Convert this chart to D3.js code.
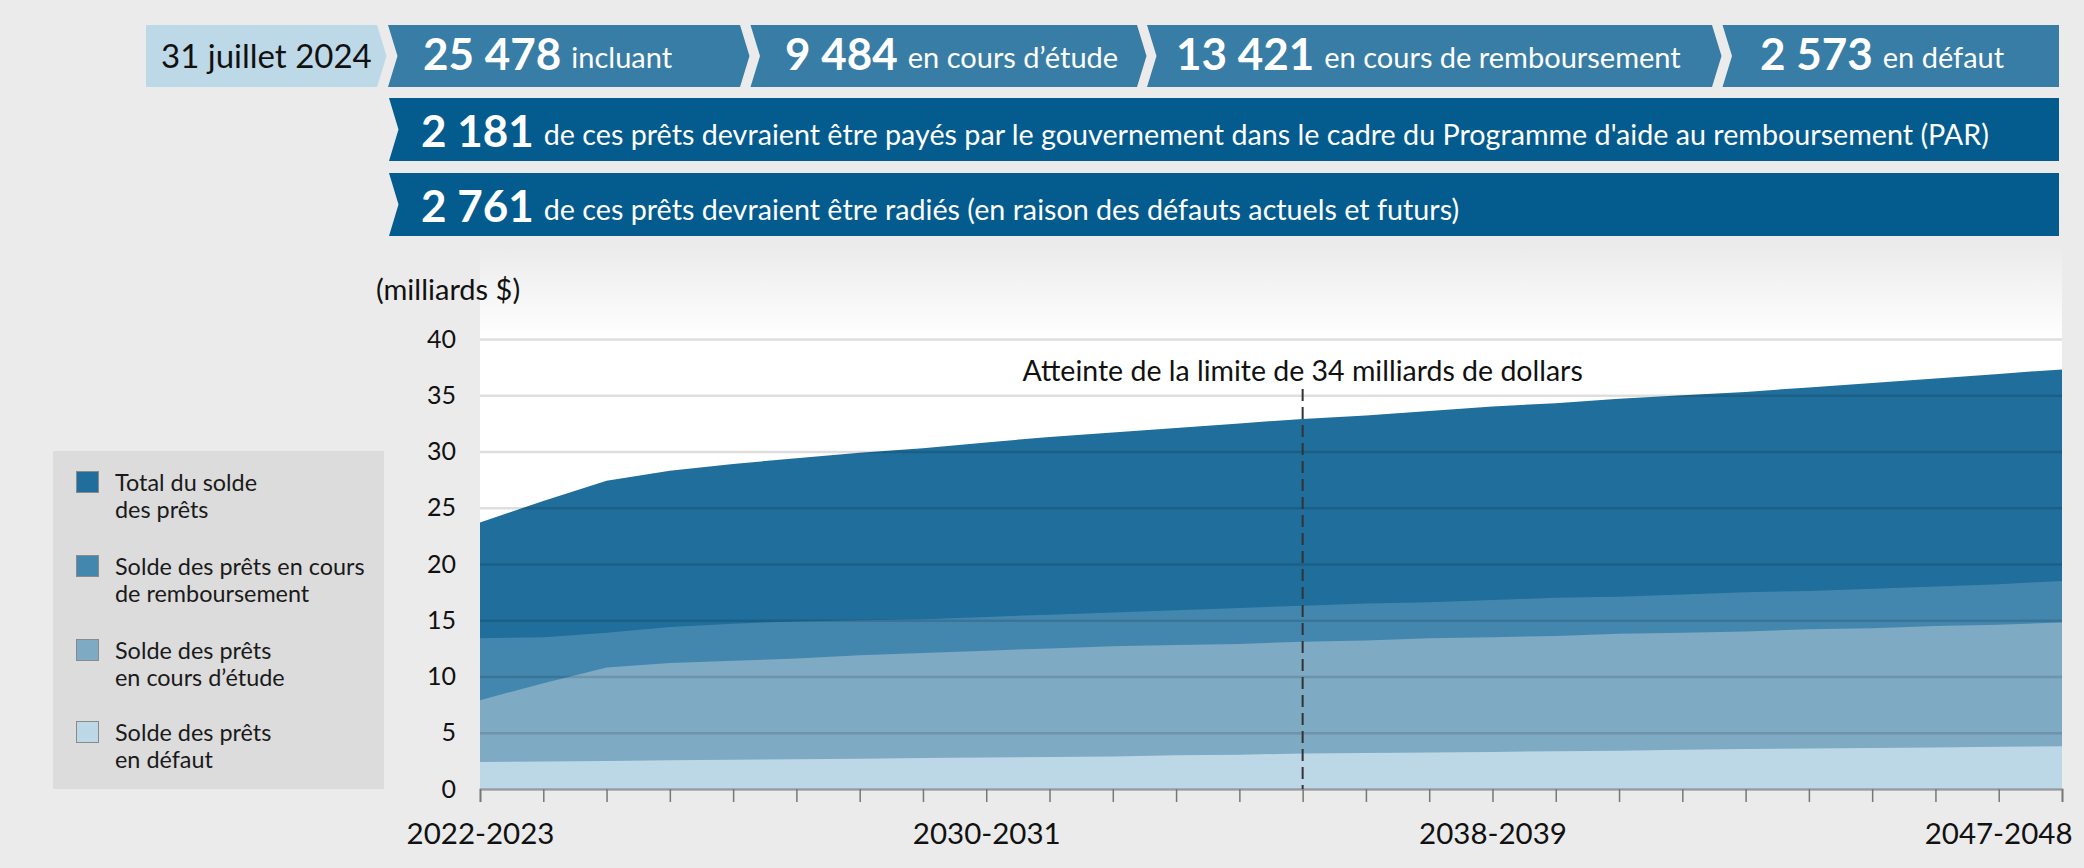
<!DOCTYPE html>
<html><head><meta charset="utf-8">
<script src="https://cdn.jsdelivr.net/npm/d3@7"></script>
<style>
html,body{margin:0;padding:0;background:#ebebeb;}
svg{display:block;font-family:Lato,"Open Sans",sans-serif;}
</style></head>
<body>
<svg id="chart" width="2084" height="868"></svg>
<script>
// ---------- DATA ----------
const years = ["2022-2023","2023-2024","2024-2025","2025-2026","2026-2027","2027-2028","2028-2029","2029-2030","2030-2031","2031-2032","2032-2033","2033-2034","2034-2035","2035-2036","2036-2037","2037-2038","2038-2039","2039-2040","2040-2041","2041-2042","2042-2043","2043-2044","2044-2045","2045-2046","2046-2047","2047-2048"];
const totalBalance     = [23.7,25.6,27.4,28.3,28.9,29.4,29.9,30.3,30.8,31.3,31.7,32.1,32.5,32.9,33.2,33.6,34.0,34.3,34.7,35.0,35.3,35.7,36.1,36.5,36.9,37.3];
const repaymentBalance = [13.4,13.5,13.9,14.4,14.7,14.9,15.0,15.1,15.3,15.5,15.7,15.9,16.1,16.3,16.5,16.6,16.8,17.0,17.1,17.3,17.5,17.6,17.8,18.0,18.2,18.5];
const studyBalance     = [7.9,9.4,10.8,11.2,11.4,11.6,11.9,12.1,12.3,12.5,12.7,12.8,12.9,13.1,13.2,13.4,13.5,13.6,13.8,13.9,14.0,14.2,14.3,14.5,14.6,14.8];
const defaultBalance   = [2.4,2.45,2.5,2.55,2.6,2.65,2.7,2.75,2.8,2.85,2.9,3.0,3.05,3.15,3.2,3.25,3.3,3.35,3.4,3.5,3.55,3.6,3.65,3.7,3.75,3.8];
const yTicks = [0,5,10,15,20,25,30,35,40];
const xTickLabels = ["2022-2023","2030-2031","2038-2039","2047-2048"];
const limitYear = "2035-2036";
const limitText = "Atteinte de la limite de 34 milliards de dollars";
const yTitle = "(milliards $)";
const seriesNames = [["Total du solde","des prêts"],["Solde des prêts en cours","de remboursement"],["Solde des prêts","en cours d’étude"],["Solde des prêts","en défaut"]];
const seriesColors = ["#1f6e9b","#4387ae","#7eaac4","#bcd8e6"];
const headerDate = "31 juillet 2024";
const row1Numbers = ["25 478","9 484","13 421","2 573"];
const row1Labels = ["incluant","en cours d’étude","en cours de remboursement","en défaut"];
const row2Number = "2 181";
const row2Label = "de ces prêts devraient être payés par le gouvernement dans le cadre du Programme d'aide au remboursement (PAR)";
const row3Number = "2 761";
const row3Label = "de ces prêts devraient être radiés (en raison des défauts actuels et futurs)";

// ---------- LAYOUT ----------
const svg = d3.select("#chart");
const plot = {left:480, right:2062, top:339, bottom:789};
const x = d3.scalePoint().domain(years).range([plot.left, plot.right]);
const y = d3.scaleLinear().domain([0,40]).range([plot.bottom, plot.top]);

// ---------- HEADER ----------
const medBlue = "#387da5", darkBlue = "#045b8e", lightBlue = "#bdd8e6";
const d = 9.5; // chevron depth
function box(x0, x1, y0, y1, notchLeft, arrowRight){
  const ym = (y0+y1)/2;
  let p = `M${x0},${y0} L${x1},${y0} `;
  p += arrowRight ? `L${x1+d},${ym} L${x1},${y1} ` : `L${x1},${y1} `;
  p += `L${x0},${y1} `;
  p += notchLeft ? `L${x0+d},${ym} Z` : `Z`;
  return p;
}
const r1y0 = 25, r1y1 = 87;
svg.append("path").attr("d", box(146,377,r1y0,r1y1,false,true)).attr("fill",lightBlue);
svg.append("text").attr("x",161).attr("y",68).attr("font-size",33).attr("fill","#111").text(headerDate);

const r1Boxes = [[388,740,true,true,423],[750.5,1137,true,true,785],[1147,1712,true,true,1176],[1722.5,2059,true,false,1760]];
r1Boxes.forEach((b,i)=>{
  svg.append("path").attr("d", box(b[0],b[1],r1y0,r1y1,b[2],b[3])).attr("fill",medBlue);
  const t = svg.append("text").attr("x",b[4]).attr("y",70).attr("fill","#fff");
  t.append("tspan").attr("font-size",44).attr("font-weight","bold").text(row1Numbers[i]);
  t.append("tspan").attr("dx",10).attr("dy",-2).attr("font-size",29).text(row1Labels[i]);
});

[[98,161,row2Number,row2Label],[173,236,row3Number,row3Label]].forEach(r=>{
  svg.append("path").attr("d", box(389,2059,r[0],r[1],true,false)).attr("fill",darkBlue);
  const t = svg.append("text").attr("x",421).attr("y",r[1]-14.5).attr("fill","#fff");
  t.append("tspan").attr("font-size",44).attr("font-weight","bold").text(r[2]);
  t.append("tspan").attr("dx",10).attr("dy",-2).attr("font-size",28.7).text(r[3]);
});

// ---------- PLOT BACKGROUND ----------
const defs = svg.append("defs");
const grad = defs.append("linearGradient").attr("id","fade").attr("x1",0).attr("y1",0).attr("x2",0).attr("y2",1);
grad.append("stop").attr("offset","0%").attr("stop-color","#ebebeb");
grad.append("stop").attr("offset","100%").attr("stop-color","#ffffff");
svg.append("rect").attr("x",plot.left).attr("y",245).attr("width",plot.right-plot.left).attr("height",plot.top-245).attr("fill","url(#fade)");
svg.append("rect").attr("x",plot.left).attr("y",plot.top).attr("width",plot.right-plot.left).attr("height",plot.bottom-plot.top).attr("fill","#fff");

// ---------- LEGEND ----------
svg.append("rect").attr("x",53).attr("y",451).attr("width",331).attr("height",338).attr("fill","#dcdcdc");
const legY = [471,555,639,721];
seriesNames.forEach((nm,i)=>{
  svg.append("rect").attr("x",76.5).attr("y",legY[i]+0.5).attr("width",22).attr("height",21)
    .attr("fill",seriesColors[i]).attr("stroke","#8a8a8a").attr("stroke-width",1);
  const t = svg.append("text").attr("x",115).attr("y",legY[i]+19.5).attr("font-size",23.4).attr("fill","#1a1a1a");
  t.append("tspan").attr("x",115).text(nm[0]);
  t.append("tspan").attr("x",115).attr("dy",27.5).text(nm[1]);
});

// ---------- AREAS ----------
const series = [totalBalance, repaymentBalance, studyBalance, defaultBalance];
const area = d3.area().x((v,i)=>x(years[i])).y0(y(0)).y1(v=>y(v));
series.forEach((s,i)=>{
  svg.append("path").attr("d", area(s)).attr("fill", seriesColors[i]);
});

// ---------- GRID & Y AXIS ----------
const yAxis = svg.append("g").attr("transform",`translate(${plot.left},0)`)
  .call(d3.axisLeft(y).tickValues(yTicks).tickSize(-(plot.right-plot.left)).tickPadding(24));
yAxis.select(".domain").remove();
yAxis.selectAll(".tick line").attr("stroke","#000").attr("stroke-opacity",0.13).attr("stroke-width",2.5);
yAxis.selectAll(".tick text").attr("font-size",25).attr("fill","#111").attr("font-family","Lato");
svg.append("text").attr("x",376).attr("y",300).attr("font-size",29).attr("fill","#111").text(yTitle);

// ---------- X AXIS ----------
const xAxis = svg.append("g").attr("transform",`translate(0,${plot.bottom})`)
  .call(d3.axisBottom(x).tickSize(13).tickFormat(v=>xTickLabels.includes(v)?v:"").tickPadding(21));
xAxis.select(".domain").attr("stroke","#9a9a9a").attr("stroke-width",2);
xAxis.selectAll(".tick line").attr("stroke","#777").attr("stroke-width",1.5);
xAxis.selectAll(".tick text").attr("font-size",29.5).attr("fill","#111").attr("font-family","Lato");
xAxis.selectAll(".tick text").filter(v=>v===years[years.length-1]).attr("text-anchor","end").attr("dx",10);

// ---------- LIMIT ANNOTATION ----------
svg.append("line").attr("x1",x(limitYear)).attr("x2",x(limitYear)).attr("y1",389).attr("y2",plot.bottom)
  .attr("stroke","#333").attr("stroke-width",2).attr("stroke-dasharray","12,6");
svg.append("text").attr("x",x(limitYear)).attr("y",381).attr("text-anchor","middle").attr("font-size",28.5).attr("fill","#111").text(limitText);
</script>
</body></html>
